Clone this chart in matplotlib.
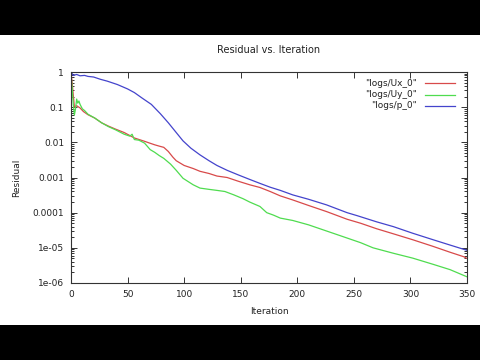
import matplotlib
matplotlib.use("Agg")
import matplotlib.pyplot as plt
from matplotlib.lines import Line2D
from matplotlib.patches import Rectangle
from matplotlib.ticker import LogLocator, NullFormatter, FixedLocator

# ---- data ----
ux_iter = [0, 1, 3, 5, 8, 11, 15, 21, 27, 33, 39, 47, 56, 65, 70, 74, 78, 82, 86, 90, 93,
           100, 108, 114, 122, 129, 138, 148, 158, 167, 176, 185, 196, 210, 226, 244, 256,
           270, 285, 302, 320, 335, 347, 350]
ux_res = [1.0, 0.5, 0.1, 0.11, 0.095, 0.075, 0.061, 0.049, 0.036, 0.029, 0.024, 0.019,
          0.0133, 0.0107, 0.0094, 0.0085, 0.0078, 0.0072, 0.0055, 0.0038, 0.0030,
          0.0022, 0.0018, 0.0015, 0.0013, 0.0011, 0.001, 0.00078, 0.00062, 0.00052,
          0.0004, 0.0003, 0.00023, 0.00016, 0.000107, 6.5e-5, 5.0e-5,
          3.5e-5, 2.5e-5, 1.7e-5, 1.1e-5, 7.5e-6, 5.6e-6, 5.0e-6]

uy_iter = [0, 1, 2, 3, 4, 5, 6, 7, 8, 10, 12, 15, 21, 27, 33, 39, 47, 52, 54, 56, 60, 65,
           70, 74, 78, 82, 88, 93, 99, 108, 114, 122, 129, 136, 144, 152, 158, 167, 173,
           179, 185, 196, 210, 226, 244, 256, 267, 285, 302, 320, 335, 350]
uy_res = [0.9, 0.35, 0.12, 0.06, 0.09, 0.17, 0.13, 0.15, 0.12, 0.09, 0.08, 0.063, 0.049,
          0.036, 0.028, 0.023, 0.017, 0.015, 0.017, 0.012, 0.0115, 0.0095,
          0.0062, 0.0052, 0.0042, 0.0035, 0.0024, 0.0016, 0.00095, 0.00062, 0.0005,
          0.00046, 0.00043, 0.0004, 0.00032, 0.00025, 0.0002, 0.00015, 0.0001,
          8.5e-5, 7.0e-5, 6.0e-5, 4.5e-5, 3.0e-5, 1.9e-5, 1.4e-5, 1.0e-5, 7.0e-6,
          5.1e-6, 3.4e-6, 2.4e-6, 1.5e-6]

p_iter = [0, 2, 5, 8, 12, 15, 20, 26, 32, 41, 50, 56, 63, 71, 79, 86, 93, 99, 106, 114,
          122, 129, 138, 148, 158, 167, 176, 185, 196, 210, 226, 244, 253, 270, 285, 302,
          320, 335, 347, 350]
p_res = [1.0, 0.8, 0.85, 0.78, 0.8, 0.75, 0.72, 0.62, 0.55, 0.44, 0.33, 0.26, 0.18, 0.12,
         0.065, 0.036, 0.019, 0.011, 0.0068, 0.0044, 0.003, 0.0022, 0.0016, 0.00118,
         0.00088, 0.00068, 0.00053, 0.00043, 0.00032, 0.00024, 0.000166, 1.0e-4,
         8.2e-5, 5.5e-5, 4.0e-5, 2.6e-5, 1.7e-5, 1.2e-5, 9.1e-6, 8.5e-6]

labels = ['"logs/Ux_0"', '"logs/Uy_0"', '"logs/p_0"']
colors = ["#d84a4a", "#4fdc4f", "#4444cc"]
x_ticks = [0, 50, 100, 150, 200, 250, 300, 350]
y_ticks = [1e-6, 1e-5, 1e-4, 1e-3, 1e-2, 1e-1, 1]
y_tick_labels = ["1e-06", "1e-05", "0.0001", "0.001", "0.01", "0.1", "1"]

plt.rcParams['font.family'] = ['DejaVu Sans']

fig = plt.figure(figsize=(4.8, 3.6), dpi=100, facecolor="white")
# black letterbox bands of the video frame
fig.patches.append(Rectangle((0, 0), 1, 35 / 360, transform=fig.transFigure,
                             facecolor="black", edgecolor="none", zorder=-5))
fig.patches.append(Rectangle((0, 325 / 360), 1, 35 / 360, transform=fig.transFigure,
                             facecolor="black", edgecolor="none", zorder=-5))

ax = fig.add_axes([71 / 480, (360 - 283) / 360, 396 / 480, 211 / 360])
ax.set_facecolor("white")

series = [(ux_iter, ux_res), (uy_iter, uy_res), (p_iter, p_res)]
for (xs, ys), c in zip(series, colors):
    ax.plot(xs, ys, color=c, lw=0.9)

ax.set_yscale("log")
ax.set_xlim(0, 350)
ax.set_ylim(1e-6, 1)
ax.xaxis.set_major_locator(FixedLocator(x_ticks))
ax.set_yticks(y_ticks)
ax.set_yticklabels(y_tick_labels)
ax.yaxis.set_minor_locator(LogLocator(base=10, subs=[2, 3, 4, 5, 6, 7, 8, 9], numticks=20))
ax.yaxis.set_minor_formatter(NullFormatter())

edge = "#333333"
for s in ax.spines.values():
    s.set_color(edge)
    s.set_linewidth(0.8)
ax.tick_params(which="both", direction="in", top=True, right=True, color=edge,
               labelsize=6.5, labelcolor="#222222", width=0.7)
ax.tick_params(which="major", length=4, pad=5)
ax.tick_params(which="minor", length=2)

ax.set_title("Residual vs. Iteration", fontsize=7, color="#222222", pad=14)
ax.set_xlabel("Iteration", fontsize=6.5, color="#222222", labelpad=6)
ax.set_ylabel("Residual", fontsize=6.5, color="#222222", labelpad=8)

# gnuplot-style key: right-aligned text then line sample
for i, (lab, c) in enumerate(zip(labels, colors)):
    yk = 1 - (11.3 + 11.2 * i) / 211
    ax.text((417 - 71) / 396, yk, lab, transform=ax.transAxes, ha="right", va="center",
            fontsize=6.5, color="#222222")
    ax.add_line(Line2D([(425 - 71) / 396, (455 - 71) / 396], [yk, yk],
                       transform=ax.transAxes, color=c, lw=0.9))

fig.savefig("out.png", dpi=100, facecolor=fig.get_facecolor())
